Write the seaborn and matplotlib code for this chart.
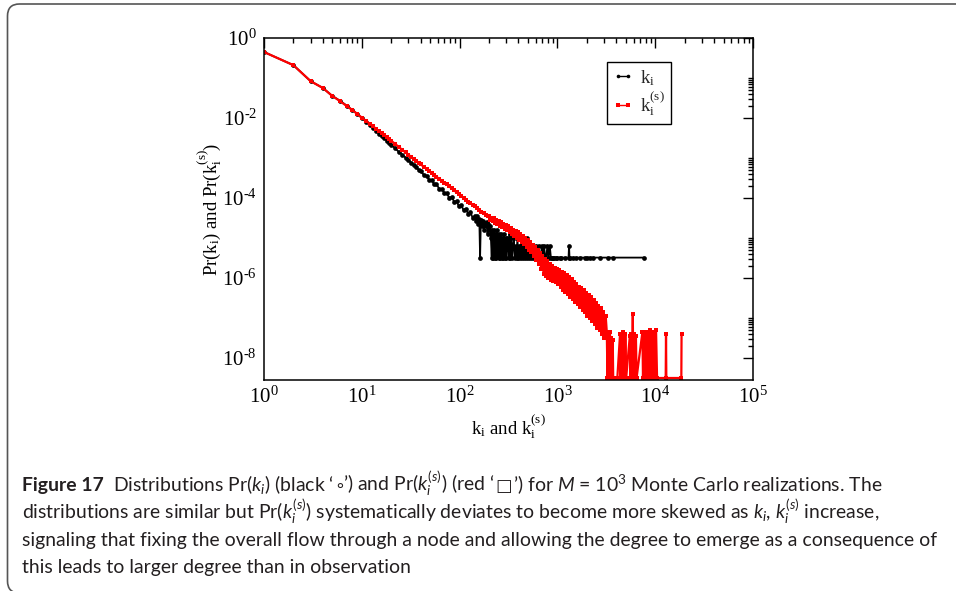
import numpy as np
import pandas as pd
import matplotlib
matplotlib.use("Agg")
import matplotlib.pyplot as plt
import seaborn as sns
from matplotlib.patches import FancyBboxPatch
from matplotlib.ticker import FixedLocator, FixedFormatter, NullFormatter

# ---------------- data ----------------
black_k = [1, 2, 3, 4, 5, 6, 7, 8, 9, 10, 11, 12, 13, 14, 15, 16, 17, 18, 19, 20,
           22, 24, 26, 28, 30, 32, 34, 36, 38, 40, 43, 46, 49, 52, 55, 58, 62, 66,
           70, 74, 78, 83, 88, 93, 98, 104, 110, 116, 122, 129, 136, 143,
           147, 151, 155, 159, 162, 165, 169, 173, 177, 181, 185, 189, 193, 197,
           201, 205, 209,
           213, 216, 220, 223, 227, 230, 234, 238, 242, 246, 250, 254, 258, 262,
           266, 270, 275, 280, 285, 290, 295, 300, 306, 312, 318, 324, 330, 337,
           344, 351, 358, 366, 374, 382, 390, 399, 408, 417, 426, 436, 446, 456,
           466, 477, 488, 500, 512, 525, 538, 551, 565, 579, 594, 609, 625, 641,
           658, 675, 693, 711, 730, 750, 770, 790, 812, 835, 858, 880, 908, 930,
           960, 1000, 1064, 1100, 1200, 1300, 1315, 1330, 1455, 1550, 1702, 1915,
           2000, 2155, 2300, 2727, 3315, 3720, 7690]
black_log10_pr = [-0.35, -0.68, -1.08, -1.25, -1.45, -1.57, -1.69, -1.80, -1.90, -2.00,
                  -2.09, -2.17, -2.25, -2.32, -2.39, -2.45, -2.51, -2.57, -2.62, -2.67,
                  -2.76, -2.85, -2.92, -2.99, -3.06, -3.12, -3.18, -3.23, -3.29, -3.33,
                  -3.42, -3.45, -3.55, -3.56, -3.66, -3.66, -3.77, -3.78, -3.88, -3.88,
                  -3.99, -3.98, -4.09, -4.08, -4.20, -4.18, -4.31, -4.27, -4.40, -4.35,
                  -4.50, -4.44,
                  -4.58, -4.46, -4.65, -4.52, -5.49, -4.55, -4.70, -4.58, -4.79, -4.62,
                  -4.71, -4.59, -4.89, -4.65, -4.79, -4.71, -5.01,
                  -5.49, -4.79, -5.49, -4.89, -4.79, -5.49, -4.89, -5.49, -4.79, -5.01,
                  -5.49, -4.89, -5.49, -5.01, -4.89, -5.49, -5.01, -5.49, -4.89, -5.49,
                  -5.01, -5.49, -5.01, -5.19, -5.49, -4.89, -5.49, -5.01, -5.49, -5.19,
                  -5.01, -5.49, -5.19, -5.49, -5.01, -5.49, -5.19, -5.49, -5.01, -5.49,
                  -5.19, -5.49, -5.19, -5.49, -5.01, -5.49, -5.19, -5.49, -5.19, -5.49,
                  -5.19, -5.49, -5.49, -5.19, -5.49, -5.19, -5.49, -5.49, -5.19, -5.49,
                  -5.19, -5.49, -5.49, -5.19, -5.49, -5.19, -5.49, -5.49, -5.49, -5.49,
                  -5.49, -5.49, -5.49, -5.49, -5.49, -5.49, -5.19, -5.49, -5.49, -5.49,
                  -5.49, -5.49, -5.49, -5.49, -5.49, -5.49, -5.49, -5.49, -5.49]

red_k = [1, 2, 3, 4, 5, 6, 7, 8, 9, 10, 11, 12, 13, 14, 15, 16, 17, 18, 19, 20,
         22, 24, 26, 28, 30, 32, 34, 36, 38, 40, 43, 46, 49, 52, 55, 58, 62, 66,
         70, 74, 78, 83, 88, 93, 98, 104, 110, 116, 122, 129, 136, 143, 151, 159,
         167, 176, 185, 193,
         200, 206, 212, 218, 224, 230, 237, 244, 251, 258, 265, 273, 281, 289, 297,
         306, 315, 324, 333, 343, 353, 363, 374, 385, 396, 407, 419, 431, 444, 457,
         470, 484, 498, 512, 527, 542, 558, 574, 591, 608, 626, 644, 663, 682, 702,
         722, 743, 765, 787, 810, 834, 858, 883, 909, 935, 962, 990, 1019, 1049,
         1079, 1111, 1143, 1176, 1210, 1245, 1282, 1319, 1357, 1397, 1437, 1479,
         1522, 1566, 1612, 1659, 1707, 1757, 1808, 1860, 1914, 1970, 2028, 2087,
         2147, 2210, 2274, 2340, 2408, 2478, 2551, 2625, 2701, 2780, 2861, 2944,
         3030, 3118, 3200,
         3250, 3300, 3350, 3400, 3450, 3500, 3560, 3620, 3680, 3720, 3900, 4100,
         4370, 4420, 4500, 4560, 4640, 4700, 4800, 4870, 4950, 5050, 5500, 5580,
         5700, 5780, 5900, 5980, 6100, 6200, 6350, 6450, 7400, 7500, 7700, 7800,
         8000, 8150, 8400, 8550, 8800, 8950, 9200, 9400, 9700, 9900, 10200, 10450,
         12800, 12900, 13000, 18500, 18600]
red_log10_pr = [-0.35, -0.68, -1.08, -1.25, -1.45, -1.58, -1.70, -1.80, -1.90, -1.99,
                -2.07, -2.14, -2.21, -2.27, -2.33, -2.38, -2.43, -2.48, -2.53, -2.57,
                -2.65, -2.73, -2.80, -2.86, -2.92, -2.97, -3.02, -3.07, -3.12, -3.16,
                -3.22, -3.27, -3.33, -3.38, -3.42, -3.47, -3.52, -3.57, -3.62, -3.66,
                -3.71, -3.76, -3.81, -3.86, -3.90, -3.95, -4.00, -4.04, -4.09, -4.12,
                -4.18, -4.20, -4.26, -4.29, -4.35, -4.37, -4.43, -4.45,
                -4.45, -4.54, -4.49, -4.58, -4.51, -4.62, -4.55, -4.65, -4.58, -4.69,
                -4.61, -4.73, -4.64, -4.77, -4.68, -4.81, -4.71, -4.85, -4.75, -4.90,
                -4.79, -4.95, -4.82, -4.99, -4.86, -5.04, -4.90, -5.10, -4.95, -5.16,
                -5.00, -5.23, -5.05, -5.30, -5.10, -5.36, -5.17, -5.45, -5.22, -5.55,
                -5.30, -5.66, -5.38, -5.78, -5.45, -5.90, -5.52, -5.95, -5.58, -6.00,
                -5.65, -6.05, -5.70, -6.08, -5.74, -6.10, -5.78, -6.15, -5.80, -6.22,
                -5.85, -6.30, -5.88, -6.35, -5.92, -6.40, -5.97, -6.48, -6.02, -6.52,
                -6.10, -6.60, -6.15, -6.65, -6.22, -6.72, -6.25, -6.80, -6.30, -6.85,
                -6.38, -6.95, -6.42, -7.00, -6.48, -7.08, -6.55, -7.15, -6.62, -7.25,
                -6.70, -7.30, -6.75, -7.40, -6.85, -7.50, -6.95, -7.35,
                -8.5, -7.45, -8.5, -7.6, -7.35, -8.5, -7.5, -8.5, -7.55, -8.5, -8.5, -8.5,
                -7.4, -8.5, -7.45, -8.5, -7.35, -8.5, -7.5, -8.5, -7.4, -8.5, -7.45, -8.5,
                -7.4, -8.5, -6.9, -8.5, -7.4, -8.5, -7.45, -8.5, -7.35, -8.5, -7.4, -8.5,
                -7.35, -8.5, -7.4, -8.5, -7.3, -8.5, -7.35, -8.5, -7.4, -8.5, -7.3, -8.5,
                -8.5, -7.4, -8.5, -8.5, -7.4]

HY = "\u2010"
x_major = [1, 10, 100, 1000, 10000, 100000]
x_tick_labels = [r"$\mathregular{10^{0}}$", r"$\mathregular{10^{1}}$", r"$\mathregular{10^{2}}$",
                 r"$\mathregular{10^{3}}$", r"$\mathregular{10^{4}}$", r"$\mathregular{10^{5}}$"]
y_major = [1, 1e-2, 1e-4, 1e-6, 1e-8]
y_tick_labels = [r"$\mathregular{10^{0}}$", "$\\mathregular{10^{" + HY + "2}}$",
                 "$\\mathregular{10^{" + HY + "4}}$", "$\\mathregular{10^{" + HY + "6}}$",
                 "$\\mathregular{10^{" + HY + "8}}$"]
label_black = r"$\mathregular{k_i}$"
label_red = r"$\mathregular{k_i^{(s)}}$"
x_label = r"$\mathregular{k_i}$ and $\mathregular{k_i^{(s)}}$"
y_label = r"Pr($\mathregular{k_i}$) and Pr($\mathregular{k_i^{(s)}}$)"

caption_bold = "Figure 17"
caption_line1_parts = [
    ("Distributions Pr($k_i$) (black \u2018", "cap", 0.0),
    ("\u2218", "sym", -1.5),
    ("\u2019) and Pr($k_i^{(s)}$) (red \u2018", "cap", 0.5),
    ("\u25a1", "sym", 0.8),
    ("\u2019) for $M$ = $\\mathregular{10^{3}}$ Monte Carlo realizations. The", "cap", 0.0),
]
caption_lines = [
    None,
    "distributions are similar but Pr($k_i^{(s)}$) systematically deviates to become more skewed as $k_i$, $k_i^{(s)}$ increase,",
    "signaling that fixing the overall flow through a node and allowing the degree to emerge as a consequence of",
    "this leads to larger degree than in observation",
]

# ---------------- style ----------------
sns.set_theme(style="white")
serif = ["Liberation Serif", "DejaVu Serif"]
capfam = ["Lato", "DejaVu Sans"]
symfam = ["DejaVu Sans"]
plt.rcParams["font.family"] = serif
plt.rcParams["mathtext.fontset"] = "custom"
plt.rcParams["mathtext.rm"] = "Lato"
plt.rcParams["mathtext.it"] = "Lato:italic"
plt.rcParams["mathtext.bf"] = "Lato:bold"

W, H = 956, 591
fig = plt.figure(figsize=(W / 100, H / 100), dpi=100)
fig.patch.set_facecolor("white")

ax = fig.add_axes([264 / W, 1 - 380 / H, (753 - 264) / W, (380 - 38) / H])
ax.set_facecolor("white")

df_b = pd.DataFrame({"k": black_k, "pr": 10 ** np.array(black_log10_pr)})
df_r = pd.DataFrame({"k": red_k, "pr": 10 ** np.array(red_log10_pr)})

sns.lineplot(data=df_b, x="k", y="pr", ax=ax, color="black", lw=1.3,
             marker="o", markersize=3.4, markeredgewidth=0,
             estimator=None, sort=False, label=label_black)
sns.lineplot(data=df_r, x="k", y="pr", ax=ax, color="#ff0000", lw=1.6,
             marker="s", markersize=3.2, markeredgewidth=0,
             estimator=None, sort=False, label=label_red)

ax.set_xscale("log")
ax.set_yscale("log")
ax.set_xlim(1, 1e5)
ax.set_ylim(10 ** -8.55, 1)

ax.xaxis.set_major_locator(FixedLocator(x_major))
ax.xaxis.set_major_formatter(FixedFormatter(x_tick_labels))
ax.xaxis.set_minor_locator(FixedLocator([j * 10 ** e for e in range(0, 5) for j in range(2, 10)]))
ax.xaxis.set_minor_formatter(NullFormatter())
ax.yaxis.set_major_locator(FixedLocator(y_major))
ax.yaxis.set_major_formatter(FixedFormatter(y_tick_labels))
ymin = []
for e in [-1, -3, -5, -7]:
    ymin += [j * 10.0 ** (e - 1) for j in range(2, 10)] + [10.0 ** e]
ax.yaxis.set_minor_locator(FixedLocator(ymin))
ax.yaxis.set_minor_formatter(NullFormatter())

ax.tick_params(which="both", direction="in", top=True, right=True, color="black",
               labelsize=15, labelcolor="black")
ax.tick_params(which="major", length=7, width=1.0, pad=5)
ax.tick_params(which="minor", length=3.6, width=1.0)
for s in ax.spines.values():
    s.set_color("black")
    s.set_linewidth(1.1)

ax.set_xlabel(x_label, fontsize=13.5, color="black", labelpad=3)
ax.set_ylabel(y_label, fontsize=13.5, color="black", labelpad=-1)

leg = ax.legend(loc="upper left", bbox_to_anchor=(606.7 / W, 1 - 62.3 / H),
                bbox_transform=fig.transFigure, frameon=True, fancybox=False,
                edgecolor="black", framealpha=1, borderpad=0.3, handlelength=1.15,
                handletextpad=0.35, labelspacing=0.1, numpoints=2,
                prop={"family": serif, "size": 13.5}, borderaxespad=0)
leg.get_frame().set_linewidth(1.0)
for ln in leg.get_lines():
    ln.set_linewidth(1.0)
    ln.set_markersize(2.6)

# ---------------- caption ----------------
fig.canvas.draw()
renderer = fig.canvas.get_renderer()
probe = fig.text(0, 0, caption_lines[2], family=capfam, fontsize=13)
wpx = probe.get_window_extent(renderer).width
probe.remove()
cap_size = 13 * (935 - 22) / wpx
cap_color = "#231f20"

baselines = [491, 518.5, 546, 573.5]
tb = fig.text(22 / W, 1 - baselines[0] / H, caption_bold, family=capfam,
              fontsize=cap_size, fontweight="bold", va="baseline", color=cap_color)
xcur = tb.get_window_extent(renderer).x1 + 9
for txt, kind, shift in caption_line1_parts:
    fam = capfam if kind == "cap" else symfam
    sz = cap_size if kind == "cap" else cap_size * 0.9
    t = fig.text(xcur / W, 1 - baselines[0] / H, txt, family=fam,
                 fontsize=sz, va="baseline", color=cap_color)
    bb = t.get_window_extent(renderer)
    xcur = bb.x1 + shift
for i in range(1, 4):
    fig.text(22 / W, 1 - baselines[i] / H, caption_lines[i], family=capfam,
             fontsize=cap_size, va="baseline", color=cap_color)

# ---------------- rounded frame ----------------
frame = FancyBboxPatch((7.5, H - 593), 975, 593 - 4, boxstyle="round,pad=0,rounding_size=12",
                       transform=None, facecolor="none", edgecolor="#555555", linewidth=1.2)
fig.add_artist(frame)

fig.savefig("out.png", dpi=100, facecolor="white")
